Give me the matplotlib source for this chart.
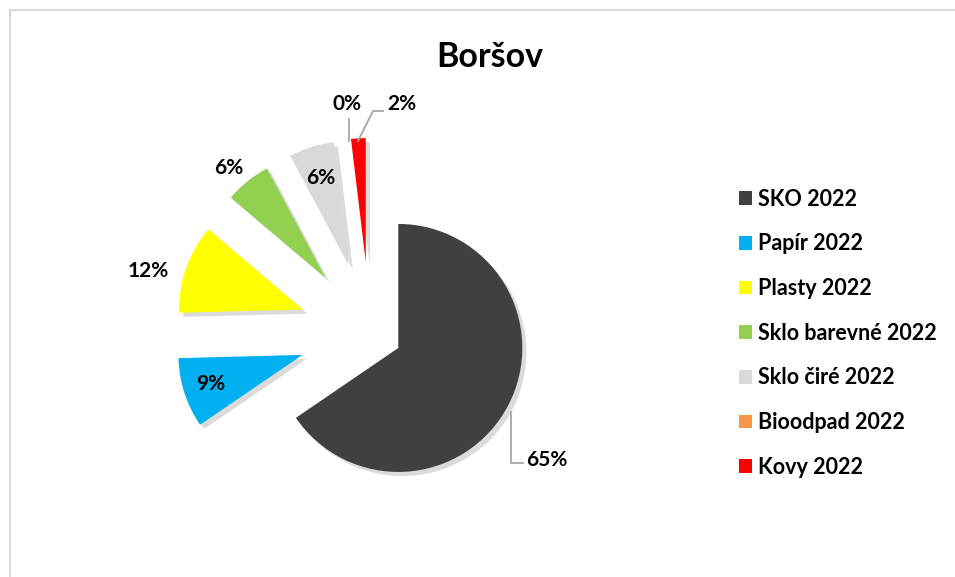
import matplotlib
matplotlib.use("Agg")
import matplotlib.pyplot as plt
import matplotlib.patheffects as pe
from matplotlib.patches import Rectangle

plt.rcParams["font.family"] = ["Lato", "DejaVu Sans"]

# ---- data -------------------------------------------------------------
categories = ["SKO 2022", "Papír 2022", "Plasty 2022", "Sklo barevné 2022",
              "Sklo čiré 2022", "Bioodpad 2022", "Kovy 2022"]
shares = [65.4, 9.1, 11.6, 6.0, 5.9, 0.0, 1.9]
colors = ["#404040", "#00b0f0", "#ffff00", "#92d050",
          "#d9d9d9", "#f79646", "#ff0000"]
title = "Boršov"

# ---- layout (pixel space, image y down) -------------------------------
W, H = 955, 577
center = (370, 333)
radius = 124
explode = [32, 71, 71, 71, 71, 71, 71]   # pixels, pie uses data units
label_pos = [(547, 460), (211, 384), (148, 271), (229, 168),
             (321, 178), (347, 104), (402, 104)]


def py(y):
    return H - y


fig = plt.figure(figsize=(W / 100, H / 100), dpi=100)
ax = fig.add_axes([0, 0, 1, 1])

wedges, _ = ax.pie(shares, colors=colors, explode=explode, startangle=90,
                   counterclock=False, radius=radius,
                   center=(center[0], py(center[1])), frame=True,
                   wedgeprops=dict(linewidth=0))
for w in wedges:
    w.set_path_effects([pe.SimplePatchShadow(offset=(3, -3), shadow_rgbFace="#808080",
                                             alpha=0.28), pe.Normal()])
ax.set_xlim(0, W)
ax.set_ylim(0, H)
ax.set_aspect("equal")
ax.axis("off")

# percentage labels
total = sum(shares)
for v, (lx, ly) in zip(shares, label_pos):
    ax.text(lx, py(ly), f"{v / total * 100:.0f}%", ha="center", va="center",
            fontsize=15, fontweight="bold", color="black")

# leader lines
lc = "#a6a6a6"
ax.plot([511, 511, 523], [py(412), py(463), py(463)], color=lc, lw=1.3)
ax.plot([349, 349], [py(141), py(119)], color=lc, lw=1.3)
ax.plot([358, 373, 383], [py(141), py(111), py(111)], color=lc, lw=1.3)

# title
ax.text(490, py(57), title, ha="center", va="center", fontsize=24.5,
        fontweight="bold", color="black")

# legend
leg = ax.legend(wedges, categories, loc="upper left",
                bbox_to_anchor=(730 / W, 1 - 180 / H), frameon=False,
                prop=dict(weight="bold", size=15.5),
                handlelength=0.6, handleheight=0.6, handletextpad=0.3,
                labelspacing=1.1, borderaxespad=0)
for h in leg.legend_handles:
    h.set_path_effects([])

# chart frame
ax.add_patch(Rectangle((9.5, -5), W, py(10) + 5, fill=False,
                       edgecolor="#d9d9d9", lw=1.5, clip_on=False))

fig.savefig("out.png", dpi=100)
